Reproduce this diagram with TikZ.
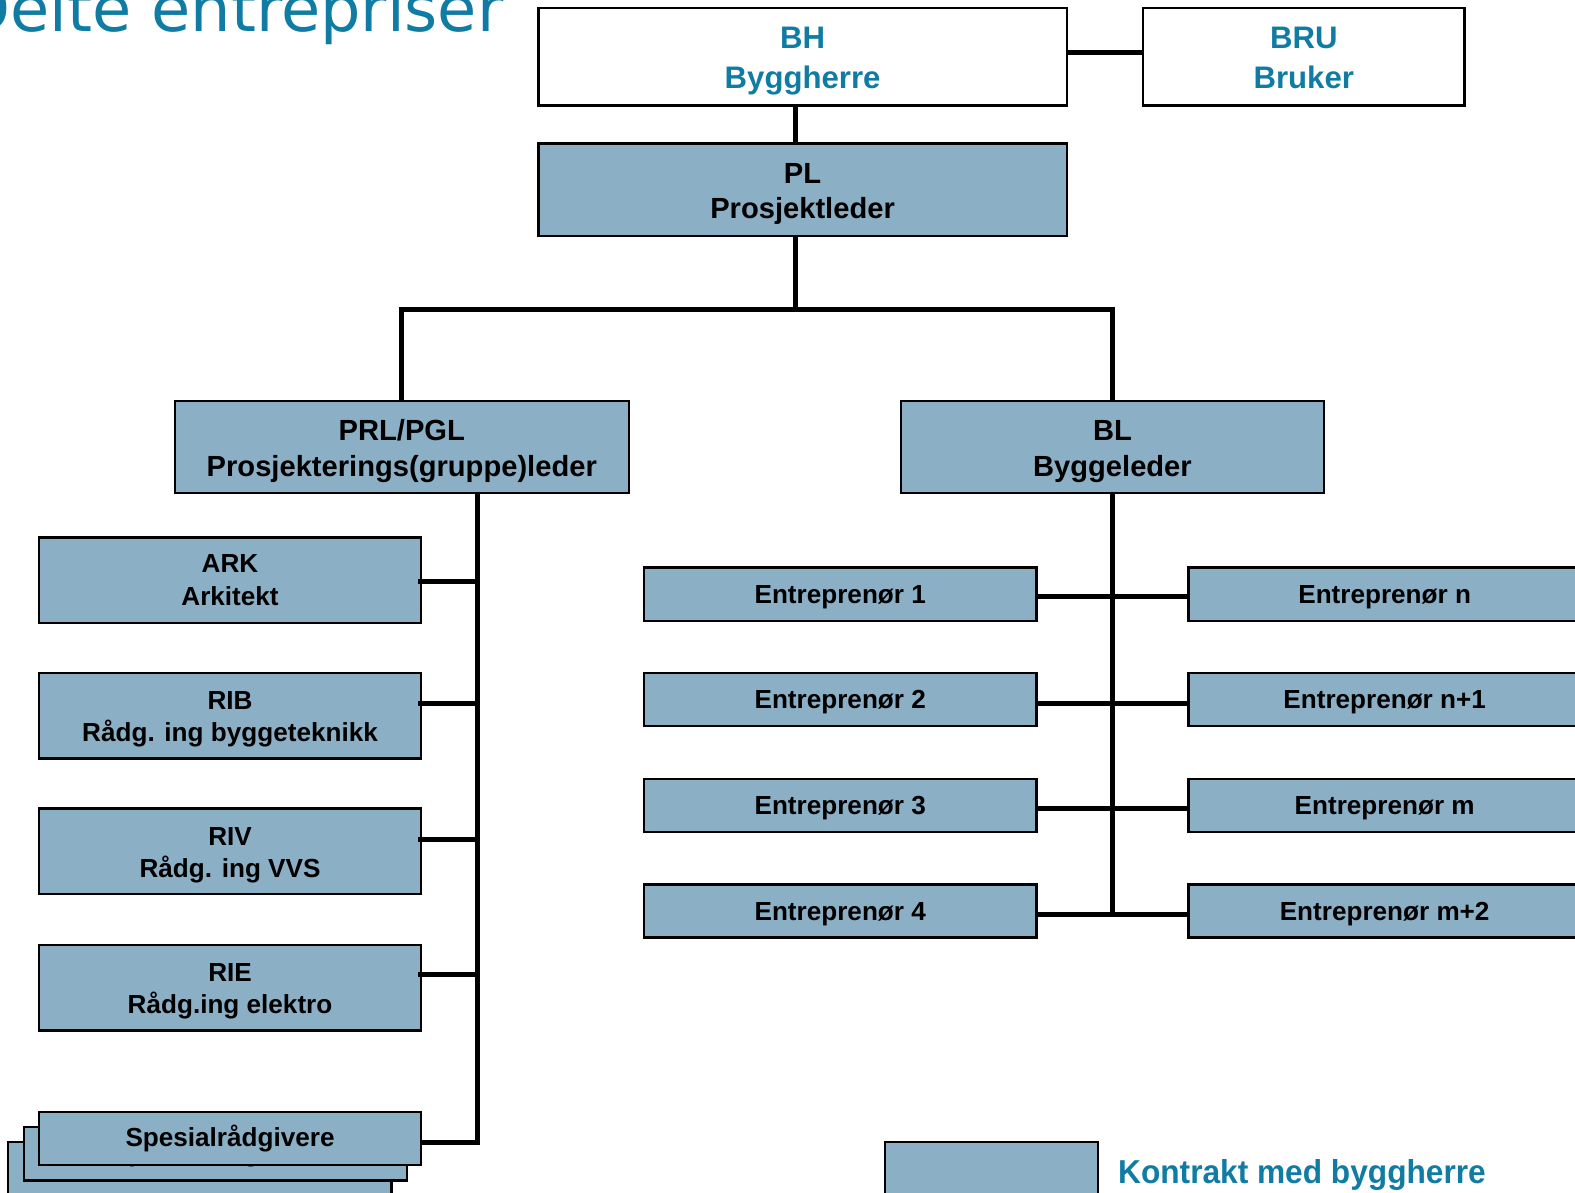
\documentclass[tikz,border=0pt]{standalone}
\usepackage{fontspec}
\setmainfont{Liberation Sans}
\newfontfamily\titlefont{DejaVu Sans}
\newfontfamily\legfont[FakeStretch=0.955]{Liberation Sans}
\definecolor{boxblue}{RGB}{139,175,197}
\definecolor{txtblue}{RGB}{16,124,164}
\newcommand\upstrut[1]{\rule{0pt}{#1}}
\newcommand\downstrut[1]{\rule[-#1]{0pt}{#1}}
\begin{document}
\begin{tikzpicture}[x=1pt,y=-1pt,
  base/.style={draw=black,line width=2.5pt,inner sep=0pt,align=center,font=\bfseries\fontsize{26}{32}\selectfont},
  bluebox/.style={base,fill=boxblue},
  whitebox/.style={base,fill=white,text=txtblue,font=\bfseries\fontsize{31}{39}\selectfont},
  bigbox/.style={bluebox,font=\bfseries\fontsize{29}{35}\selectfont},
  conn/.style={line width=5pt}]
\useasboundingbox (0,0) rectangle (1568,1187);
\clip (0,0) rectangle (1568,1187);

% title
\node[anchor=base west,inner sep=0pt,text=txtblue,font=\titlefont\fontsize{63.5}{70}\selectfont] (title) at (-39,31) {Delte entrepriser};

% top
\node[whitebox,minimum width=526pt,minimum height=97pt] (bh) at (799,56.5) {\upstrut{30pt}BH\\Byggherre};
\node[whitebox,minimum width=320pt,minimum height=97pt] (bru) at (1298,56.5) {\upstrut{30pt}BRU\\Bruker\downstrut{6.5pt}};
\node[bigbox,minimum width=526pt,minimum height=92pt] (pl) at (799,189) {\upstrut{29pt}PL\\Prosjektleder};
\node[bigbox,minimum width=452pt,minimum height=92pt] (prl) at (400,445) {\upstrut{29pt}PRL/PGL\\Prosjekterings(gruppe)leder};
\node[bigbox,minimum width=421pt,minimum height=92pt] (bl) at (1107.5,445) {\upstrut{29pt}BL\\Byggeleder};

% left column
\node[bluebox,minimum width=380pt,minimum height=85pt] (ark) at (229,577.5) {ARK\\Arkitekt};
\node[bluebox,minimum width=380pt,minimum height=85pt] (rib) at (229,712.5) {\upstrut{25.5pt}RIB\\Rådg. ing byggeteknikk};
\node[bluebox,minimum width=380pt,minimum height=85pt] (riv) at (229,847.5) {\upstrut{25.5pt}RIV\\Rådg. ing VVS};
\node[bluebox,minimum width=380pt,minimum height=85pt] (rie) at (229,983.5) {\upstrut{25pt}RIE\\Rådg.ing elektro};
\node[bluebox,minimum width=382pt,minimum height=53pt] (spes3) at (199,1163.5) {\upstrut{22pt}Spesialrådgivere};
\node[bluebox,minimum width=381pt,minimum height=53pt] (spes2) at (214.5,1148.5) {\upstrut{22pt}Spesialrådgivere};
\node[bluebox,minimum width=380pt,minimum height=53pt] (spes) at (229,1133.5) {\upstrut{22pt}Spesialrådgivere};

% entreprenører
\node[bluebox,minimum width=391pt,minimum height=53pt] (e1) at (836.5,591.5) {\upstrut{24pt}Entreprenør 1};
\node[bluebox,minimum width=391pt,minimum height=53pt] (e2) at (836.5,696.5) {\upstrut{24pt}Entreprenør 2};
\node[bluebox,minimum width=391pt,minimum height=53pt] (e3) at (836.5,802) {\upstrut{24pt}Entreprenør 3};
\node[bluebox,minimum width=391pt,minimum height=53pt] (e4) at (836.5,907) {\upstrut{24pt}Entreprenør 4};
\node[bluebox,minimum width=391pt,minimum height=53pt] (n1) at (1378.5,591.5) {\upstrut{24pt}Entreprenør n};
\node[bluebox,minimum width=391pt,minimum height=53pt] (n2) at (1378.5,696.5) {\upstrut{24pt}Entreprenør n+1};
\node[bluebox,minimum width=391pt,minimum height=53pt] (n3) at (1378.5,802) {\upstrut{24pt}Entreprenør m};
\node[bluebox,minimum width=391pt,minimum height=53pt] (n4) at (1378.5,907) {\upstrut{24pt}Entreprenør m+2};

% legend
\node[bluebox,minimum width=212pt,minimum height=70pt] (leg) at (987,1172) {};
\node[anchor=base west,inner sep=0pt,text=txtblue,font=\legfont\bfseries\fontsize{33}{38}\selectfont] (legt) at (1113,1178) {Kontrakt med byggherre};

% connectors
\coordinate (j) at (792,308);
\coordinate (pv) at (475,1137);
\coordinate (bv) at (1108,910);
\draw[conn] ([yshift=4.5pt]bh.east) -- ([yshift=4.5pt]bru.west);
\draw[conn] (bh.south -| j) -- (pl.north -| j);
\draw[conn] (pl.south -| j) -- (j);
\draw[conn] (prl.north) |- (j) -| (bl.north);
\draw[conn] (prl.south -| pv) -- (pv) -- (spes.east |- pv);
\draw[conn] ([xshift=-4pt,yshift=-1.5pt]ark.east) -- ([yshift=-1.5pt]ark.east -| pv);
\draw[conn] ([xshift=-4pt,yshift=12pt]rib.east) -- ([yshift=12pt]rib.east -| pv);
\draw[conn] ([xshift=-4pt,yshift=12pt]riv.east) -- ([yshift=12pt]riv.east -| pv);
\draw[conn] ([xshift=-4pt,yshift=13pt]rie.east) -- ([yshift=13pt]rie.east -| pv);
\draw[conn] (bl.south -| bv) -- (bv);
\draw[conn] ([yshift=-2.5pt]e1.east) -- ([yshift=-2.5pt]n1.west);
\draw[conn] ([yshift=-3.5pt]e2.east) -- ([yshift=-3.5pt]n2.west);
\draw[conn] ([yshift=-3pt]e3.east) -- ([yshift=-3pt]n3.west);
\draw[conn] ([yshift=-3pt]e4.east) -- ([yshift=-3pt]n4.west);
\end{tikzpicture}
\end{document}
